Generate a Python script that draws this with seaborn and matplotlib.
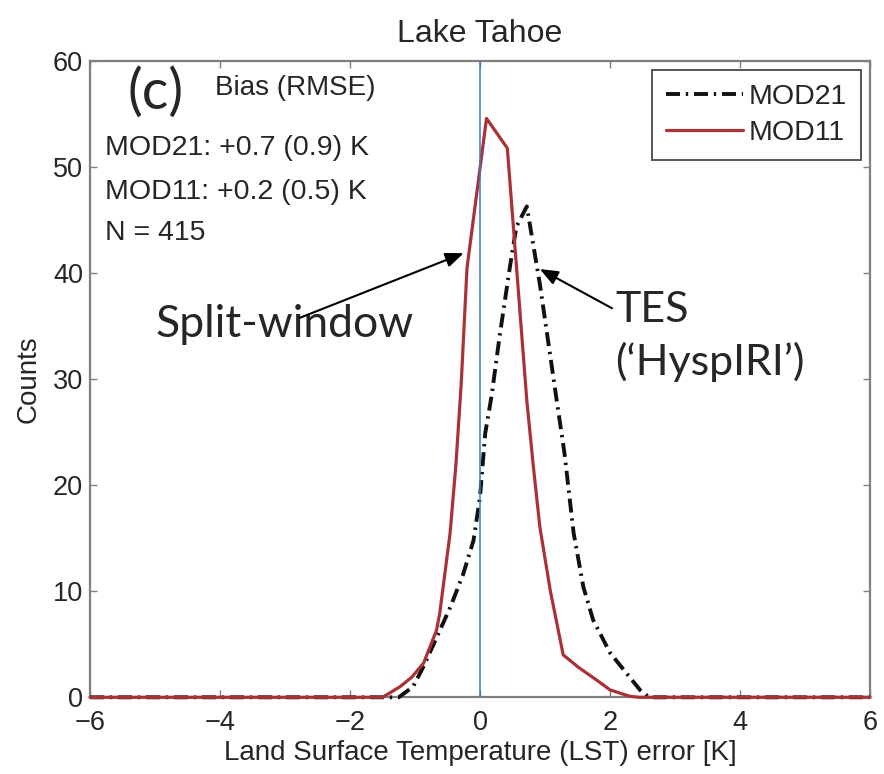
import numpy as np
import pandas as pd
import matplotlib
matplotlib.use("Agg")
import matplotlib.pyplot as plt
from matplotlib.lines import Line2D
import seaborn as sns

# LST error histograms (counts per error bin) for Lake Tahoe
err_mod21 = [-6.0, -1.25, -1.03, -0.87, -0.67, -0.45, -0.26, -0.10, 0.00, 0.08, 0.18,
             0.30, 0.46, 0.56, 0.72, 0.92, 1.18, 1.30, 1.44, 1.59, 1.74, 2.00, 2.46, 2.60, 6.0]
cnt_mod21 = [0.0, 0.0, 1.0, 2.9, 5.6, 8.6, 11.6, 14.8, 18.9, 24.9, 28.5,
             34.0, 40.6, 44.4, 46.3, 39.0, 28.0, 23.0, 15.5, 10.4, 7.3, 4.2, 0.7, 0.0, 0.0]

err_mod11 = [-6.0, -1.50, -1.23, -1.05, -0.87, -0.67, -0.62, -0.46, -0.37, -0.29, -0.20,
             0.10, 0.42, 0.72, 0.82, 0.92, 1.08, 1.28, 1.52, 1.80, 2.00, 2.30, 2.45, 6.0]
cnt_mod11 = [0.0, 0.0, 1.0, 1.9, 3.2, 6.3, 7.9, 15.5, 22.0, 29.5, 40.5,
             54.6, 51.8, 28.0, 21.8, 16.1, 10.1, 4.0, 2.8, 1.6, 0.7, 0.1, 0.0, 0.0]

products = ["MOD21", "MOD11"]
stats_lines = ["MOD21: +0.7 (0.9) K", "MOD11: +0.2 (0.5) K", "N = 415"]
x_ticks = [-6, -4, -2, 0, 2, 4, 6]
y_ticks = [0, 10, 20, 30, 40, 50, 60]

df = pd.concat([
    pd.DataFrame({"err": err_mod21, "count": cnt_mod21, "product": "MOD21"}),
    pd.DataFrame({"err": err_mod11, "count": cnt_mod11, "product": "MOD11"}),
], ignore_index=True)

sns.set_style("white")
plt.rcParams["font.family"] = ["Liberation Sans", "DejaVu Sans"]

colors = {"MOD21": "#111111", "MOD11": "#a83236"}
dash_mod21 = (3.6, 1.5, 0.6, 1.5)
widths = {"MOD21": 2.8, "MOD11": 2.3}

fig = plt.figure(figsize=(8.84, 7.74), dpi=100)
ax = fig.add_axes([0.1018, 0.0991, 0.8824, 0.8218])

sns.lineplot(data=df, x="err", y="count", hue="product", style="product",
             hue_order=products, style_order=products, palette=colors,
             dashes={"MOD21": dash_mod21, "MOD11": ""}, estimator=None,
             sort=True, legend=False, ax=ax)
for line, p in zip(ax.get_lines(), products):
    line.set_linewidth(widths[p])
    line.set_clip_on(False)
    line.set_zorder(3 if p == "MOD21" else 4)

ax.axvline(0, color="#3a7bd5", lw=1.1, zorder=5)

ax.set_xlim(-6, 6)
ax.set_ylim(0, 60)
ax.set_xticks(x_ticks)
ax.set_yticks(y_ticks)
ax.set_xticklabels([f"{t}".replace("-", "\u2212") for t in x_ticks])
ax.tick_params(direction="in", length=5, width=1.0, color="#7f7f7f",
               labelsize=19.5, labelcolor="#262626", top=True, right=True,
               bottom=True, left=True, pad=5)
ax.tick_params(axis="x", pad=9)
for s in ax.spines.values():
    s.set_color("#7f7f7f")
    s.set_linewidth(1.6)
    s.set_visible(True)

ax.set_xlabel("Land Surface Temperature (LST) error [K]", fontsize=20,
              color="#262626", labelpad=3)
ax.set_ylabel("Counts", fontsize=20, color="#262626", labelpad=8)
ax.set_title("Lake Tahoe", fontsize=23, color="#262626", pad=14)

# Legend
handles = [Line2D([], [], color=colors["MOD21"], lw=widths["MOD21"],
                  dashes=dash_mod21),
           Line2D([], [], color=colors["MOD11"], lw=widths["MOD11"])]
leg = ax.legend(handles, products, loc="upper right", fontsize=20.5,
                handlelength=2.7, handletextpad=0.2, borderpad=0.5,
                labelspacing=0.35, fancybox=False, framealpha=1,
                borderaxespad=0.3)
leg.get_frame().set_edgecolor("#555555")
leg.get_frame().set_linewidth(1.4)
for t in leg.get_texts():
    t.set_color("#262626")

# Statistics block
ax.text(0.160, 0.958, "Bias (RMSE)", transform=ax.transAxes, fontsize=20,
        color="#262626", va="center", ha="left")
for txt, yf in zip(stats_lines, [0.863, 0.794, 0.730]):
    ax.text(0.019, yf, txt, transform=ax.transAxes, fontsize=20.5,
            color="#262626", va="center", ha="left")

cal = ["Lato", "DejaVu Sans"]
ax.text(-5.42, 57.0, "(c)", fontsize=40, family=cal, va="center", ha="left")
ax.text(-5.0, 34.0, "Split-window", fontsize=32, family=cal,
        va="baseline", ha="left")
ax.text(2.08, 35.4, "TES", fontsize=31, family=cal, va="baseline", ha="left")
ax.text(2.08, 30.4, "(\u2018HyspIRI\u2019)", fontsize=31, family=cal,
        va="baseline", ha="left")

arrow = dict(arrowstyle="-|>,head_length=0.55,head_width=0.22", lw=1.5,
             color="black", shrinkA=0, shrinkB=0, mutation_scale=20)
ax.annotate("", xy=(-0.25, 41.9), xytext=(-2.77, 35.8), arrowprops=arrow,
            zorder=6)
ax.annotate("", xy=(0.92, 40.4), xytext=(2.03, 36.7), arrowprops=arrow,
            zorder=6)

fig.savefig("out.png", dpi=100)
